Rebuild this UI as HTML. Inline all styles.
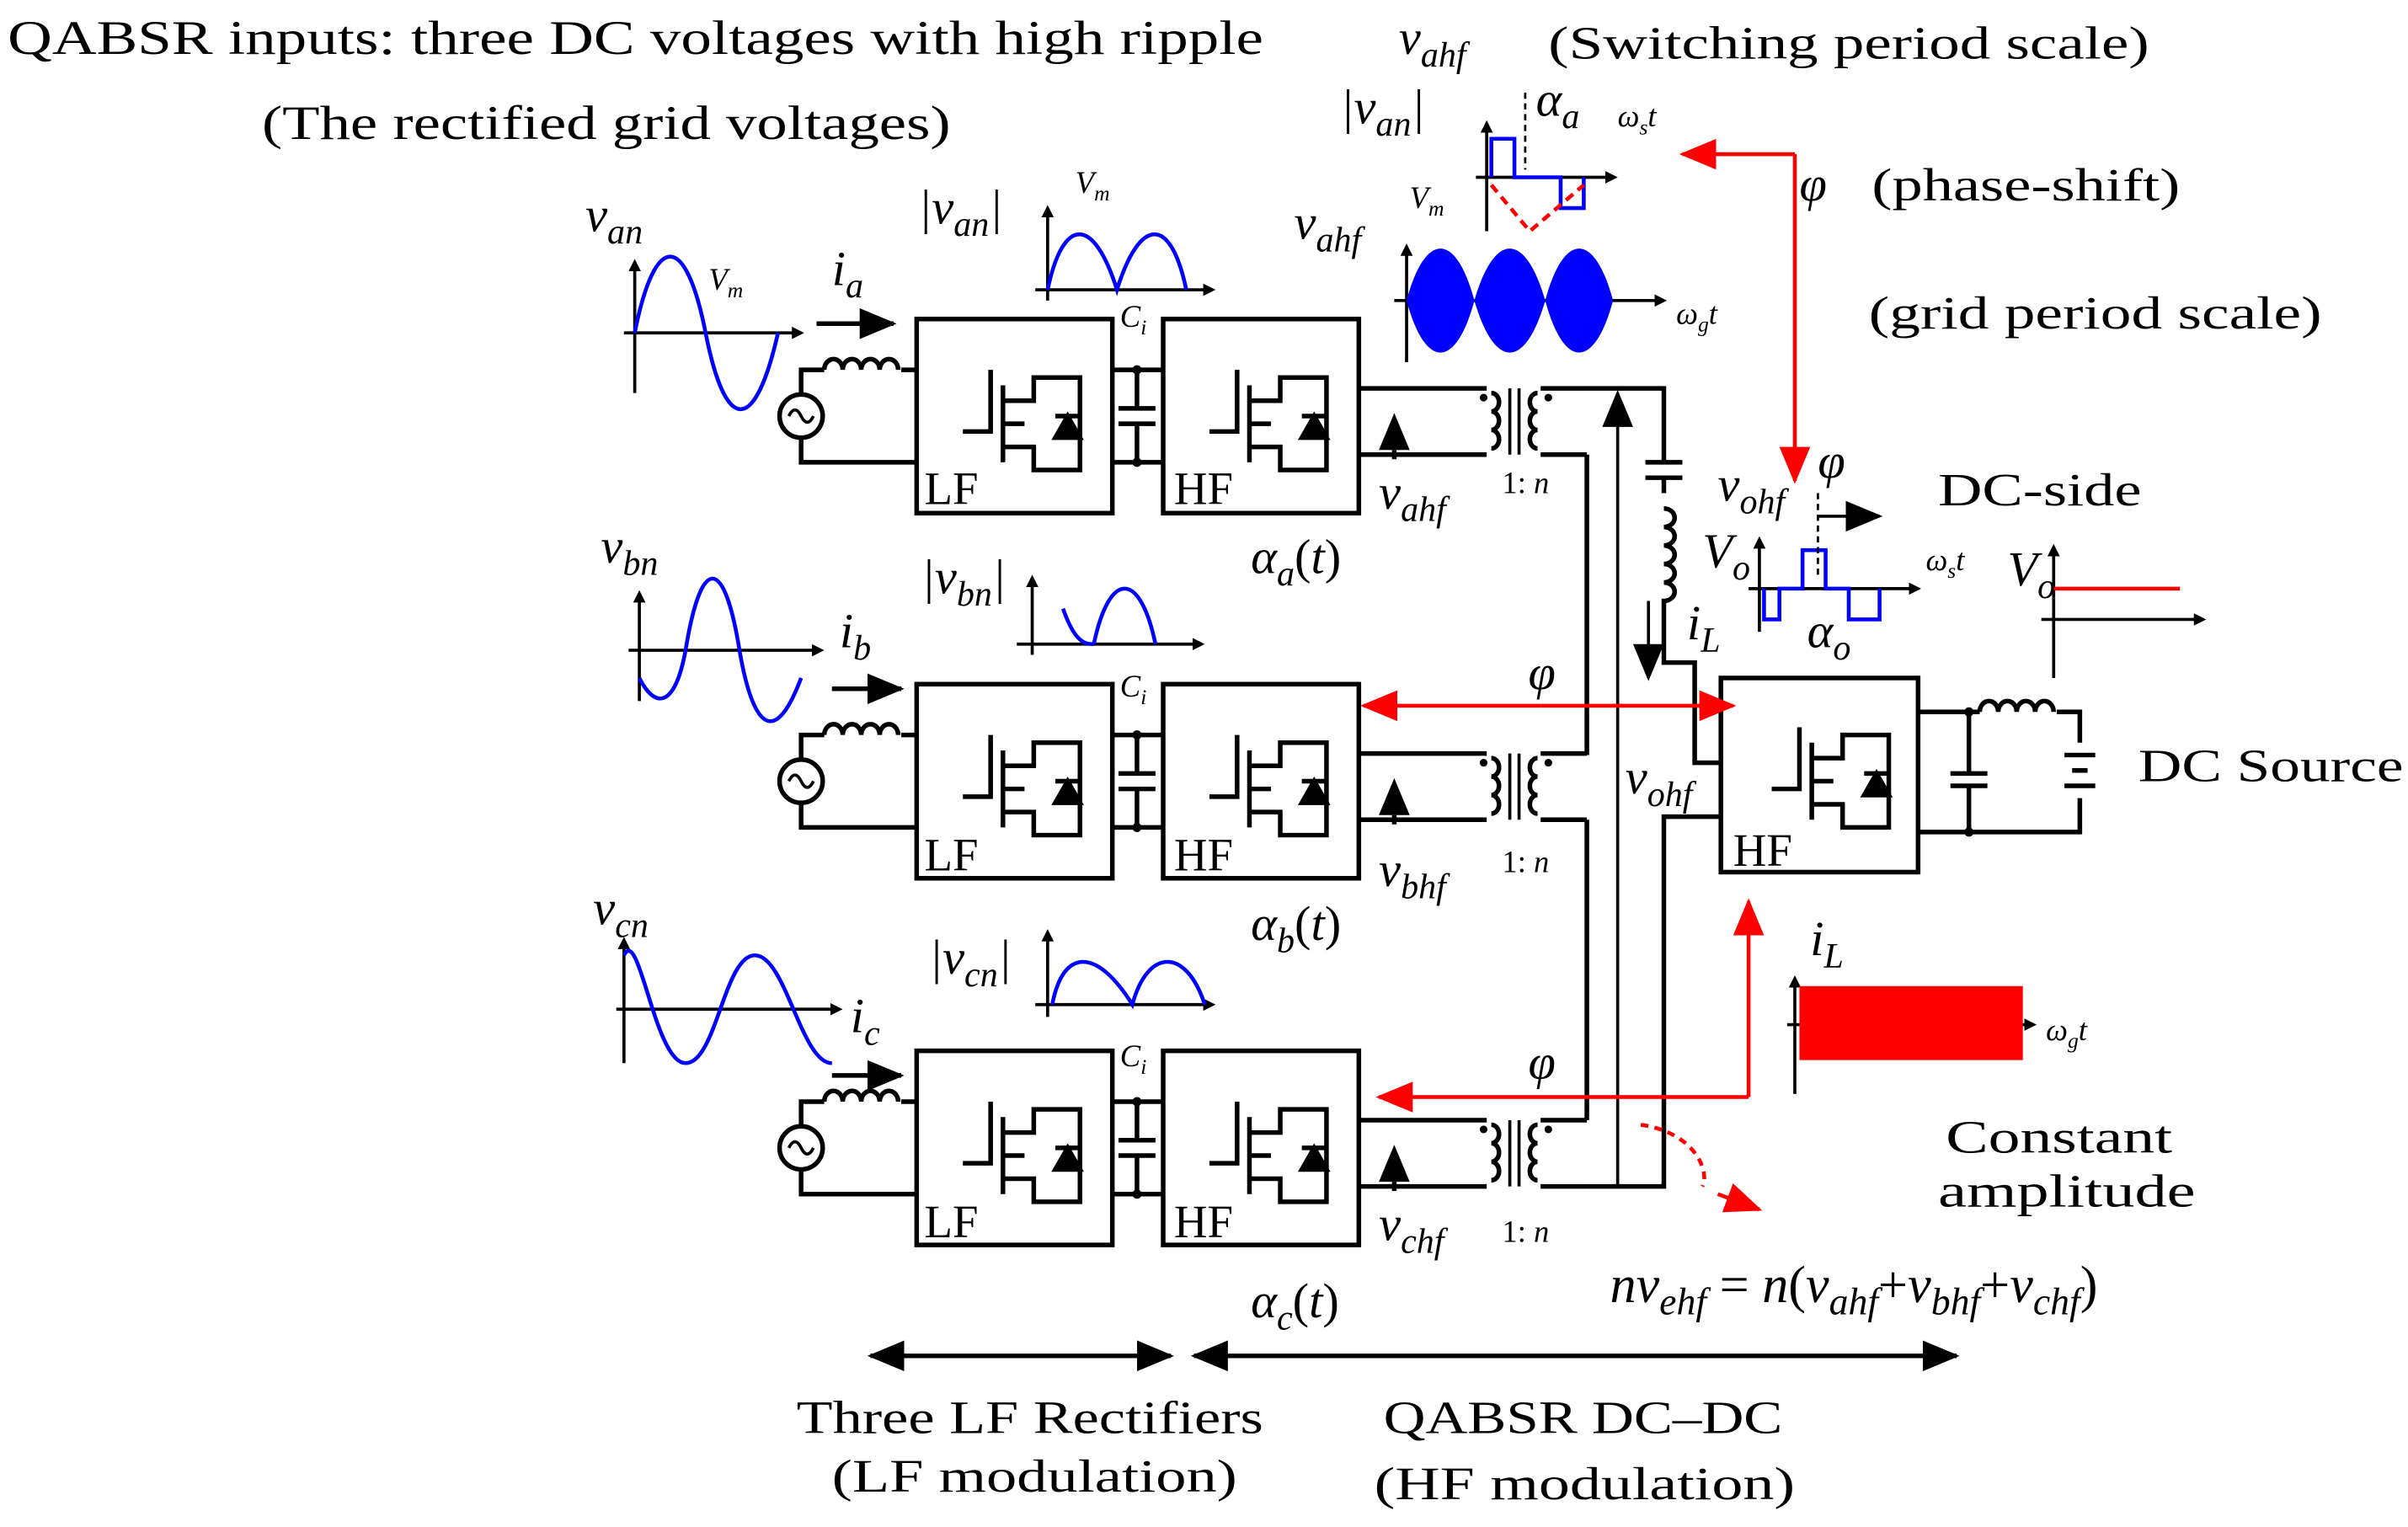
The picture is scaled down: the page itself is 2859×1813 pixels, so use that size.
<!DOCTYPE html>
<html><head><meta charset="utf-8"><style>
html,body{margin:0;padding:0;background:#fff;}
svg{display:block;}
text{font-family:"Liberation Serif",serif;fill:#000;}
.m{font-style:italic;}
</style></head><body>
<svg width="2859" height="1813" viewBox="0 0 1563 991" xmlns="http://www.w3.org/2000/svg">
<defs>
<marker id="ab" markerWidth="8" markerHeight="8" refX="6" refY="4" orient="auto" markerUnits="userSpaceOnUse"><path d="M0,0 L8,4 L0,8 z" fill="#000"/></marker>
<marker id="abig" markerWidth="24" markerHeight="20" refX="22" refY="10" orient="auto-start-reverse" markerUnits="userSpaceOnUse"><path d="M0,0 L24,10 L0,20 z" fill="#000"/></marker>
<marker id="ar" markerWidth="24" markerHeight="20" refX="22" refY="10" orient="auto-start-reverse" markerUnits="userSpaceOnUse"><path d="M0,0 L24,10 L0,20 z" fill="#f00"/></marker>
<g id="sw" fill="none" stroke="#000" stroke-width="3">
 <path d="M0,50 h18 v-40 M26,20 v50 M26,30 h20 v-15 h30 v25 M26,60 h20 v15 h30 v-35 M26,45 h14"/>
 <path d="M68,40 l8,14 h-16 z M60,40 h16" fill="#000"/>
</g>
<g id="row">
 <g fill="none" stroke="#000" stroke-width="3">
  <circle cx="520" cy="270" r="14"/>
  <path d="M512,270 q4,-8 8,0 q4,8 8,0" stroke-width="2"/>
  <path d="M520,256 v-16 h15 M585,240 h10 M520,284 v16 h75"/>
  <path d="M535,240 a6,7 0 0 1 12,0 a6,7 0 0 1 12,0 a6,7 0 0 1 12,0 a6,7 0 0 1 12,0"/>
  <rect x="595" y="207" width="127" height="126"/>
  <rect x="755" y="207" width="127" height="126"/>
  <path d="M722,240 h33 M722,300 h33 M738,240 v25 M738,275 v25 M726,265 h24 M726,275 h24"/>
  <path d="M882,252 h83 M882,295 h83 M1000,252 h30 M1000,295 h30"/>
  <path d="M968,255 a5,6 0 0 1 0,12 a5,6 0 0 1 0,12 a5,6 0 0 1 0,12" />
  <path d="M998,255 a5,6 0 0 0 0,12 a5,6 0 0 0 0,12 a5,6 0 0 0 0,12" />
  <path d="M980,252 v43 M986,252 v43" stroke-width="2"/>
 </g>
 <circle cx="738" cy="240" r="3"/><circle cx="738" cy="300" r="3"/>
 <circle cx="963" cy="258" r="2.5"/><circle cx="1005" cy="258" r="2.5"/>
 <path d="M895,292 L905,268 L915,292 z"/><path d="M905,292 v6" stroke="#000" stroke-width="3"/>
 <use href="#sw" x="625" y="230"/>
 <use href="#sw" x="785" y="230"/>
</g>
</defs>

<text x="5" y="35" font-size="31" textLength="815" lengthAdjust="spacingAndGlyphs">QABSR inputs: three DC voltages with high ripple</text>
<text x="170" y="90" font-size="31" textLength="447" lengthAdjust="spacingAndGlyphs">(The rectified grid voltages)</text>

<use href="#row"/>
<use href="#row" y="237"/>
<use href="#row" y="475"/>

<g font-size="30">
<text x="600" y="327">LF</text><text x="762" y="327">HF</text>
<text x="600" y="565">LF</text><text x="762" y="565">HF</text>
<text x="600" y="803">LF</text><text x="762" y="803">HF</text>
<text x="1125" y="562">HF</text>
<text x="1258" y="328" textLength="132" lengthAdjust="spacingAndGlyphs">DC-side</text>
<text x="1388" y="507" textLength="172" lengthAdjust="spacingAndGlyphs">DC Source</text>
<text x="1213" y="213" textLength="294" lengthAdjust="spacingAndGlyphs">(grid period scale)</text>
<text x="1005" y="38" textLength="390" lengthAdjust="spacingAndGlyphs">(Switching period scale)</text>
<text x="1215" y="130" textLength="200" lengthAdjust="spacingAndGlyphs">(phase-shift)</text>
<text x="1263" y="748" textLength="147" lengthAdjust="spacingAndGlyphs">Constant</text>
<text x="1258" y="783" textLength="167" lengthAdjust="spacingAndGlyphs">amplitude</text>
<text x="517" y="930" textLength="303" lengthAdjust="spacingAndGlyphs">Three LF Rectifiers</text>
<text x="540" y="968" textLength="263" lengthAdjust="spacingAndGlyphs">(LF modulation)</text>
<text x="898" y="930" textLength="259" lengthAdjust="spacingAndGlyphs">QABSR DC–DC</text>
<text x="892" y="973" textLength="273" lengthAdjust="spacingAndGlyphs">(HF modulation)</text>
</g>
<g font-size="20"><text x="975" y="320">1: <tspan class="m">n</tspan></text><text x="975" y="566">1: <tspan class="m">n</tspan></text><text x="975" y="806">1: <tspan class="m">n</tspan></text></g>

<g fill="none" stroke="#000" stroke-width="3">
 <path d="M1030,252 h50 v48"/>
 <path d="M1030,295 v195 M1030,532 v195 M1030,770 h50 v-240 h37"/>
 <path d="M1068,300 h24 M1068,310 h24 M1080,310 v10"/>
 <path d="M1080,330 a7,6 0 0 1 0,12 a7,6 0 0 1 0,12 a7,6 0 0 1 0,12 a7,6 0 0 1 0,12 a7,6 0 0 1 0,12 v40 h20 v65 h17"/>
 <rect x="1117" y="440" width="128" height="126"/>
 <path d="M1245,462 h40 M1335,462 h15 v20 M1245,540 h105 v-22 M1278,462 v40 M1278,510 v30 M1266,502 h24 M1266,510 h24"/>
 <path d="M1285,462 a6,7 0 0 1 12,0 a6,7 0 0 1 12,0 a6,7 0 0 1 12,0 a6,7 0 0 1 12,0"/>
 <path d="M1340,490 h20 M1345,500 h10 M1340,510 h20" />
 <path d="M1050,770 V255" stroke-width="2" marker-end="url(#abig)"/>
 <path d="M1070,390 V440" stroke-width="2" marker-end="url(#abig)"/>
</g>
<circle cx="1278" cy="462" r="3"/><circle cx="1278" cy="540" r="3"/>
<use href="#sw" x="1150" y="462"/>

<g stroke="#000" stroke-width="3" fill="none">
 <path d="M530,210 h50" marker-end="url(#abig)"/>
 <path d="M540,447 h45" marker-end="url(#abig)"/>
 <path d="M540,698 h45" marker-end="url(#abig)"/>
 <path d="M565,880 h195" marker-end="url(#abig)" marker-start="url(#abig)"/>
 <path d="M775,880 h495" marker-end="url(#abig)" marker-start="url(#abig)"/>
</g>

<g fill="none" stroke-width="2.5">
 <g stroke="#000" stroke-width="2"><path d="M405,216 h115" marker-end="url(#ab)"/><path d="M412,255 v-85" marker-end="url(#ab)"/>
 <path d="M408,422 h125" marker-end="url(#ab)"/><path d="M415,455 v-70" marker-end="url(#ab)"/>
 <path d="M400,655 h145" marker-end="url(#ab)"/><path d="M405,690 v-80" marker-end="url(#ab)"/>
 <path d="M672,188 h115" marker-end="url(#ab)"/><path d="M680,195 v-60" marker-end="url(#ab)"/>
 <path d="M660,418 h120" marker-end="url(#ab)"/><path d="M670,425 v-50" marker-end="url(#ab)"/>
 <path d="M672,652 h115" marker-end="url(#ab)"/><path d="M680,660 v-55" marker-end="url(#ab)"/>
 <path d="M905,195 h175" marker-end="url(#ab)"/><path d="M913,235 v-75" marker-end="url(#ab)"/>
 <path d="M1325,402 h105" marker-end="url(#ab)"/><path d="M1333,440 v-85" marker-end="url(#ab)"/>
 <path d="M1160,665 h160" marker-end="url(#ab)"/><path d="M1165,710 v-75" marker-end="url(#ab)"/>
 <path d="M958,115 h90" marker-end="url(#ab)"/><path d="M965,150 v-70" marker-end="url(#ab)"/>
 <path d="M1135,382 h110" marker-end="url(#ab)"/><path d="M1142,410 v-60" marker-end="url(#ab)"/>
 </g>
 <path stroke="#00f" d="M412,216 C425,150 445,150 458,216 S490,282 505,216"/>
 <path stroke="#00f" d="M415,440 C425,460 438,460 445,422 C455,360 470,360 480,422 C490,480 505,480 520,440"/>
 <path stroke="#00f" d="M405,620 C415,600 425,690 445,690 C465,690 470,620 490,620 C510,620 520,690 540,690"/>
 <path stroke="#00f" d="M680,188 C690,140 710,140 725,188 C740,140 760,140 770,188"/>
 <path stroke="#00f" d="M710,418 C720,370 740,370 750,418 M690,395 C698,418 705,418 710,418"/>
 <path stroke="#00f" d="M683,652 C690,615 712,615 735,652 C745,615 770,615 782,652"/>
 <path stroke="#00f" d="M968,115 v-25 h15 v25 h30 v20 h15 v-20"/>
 <path stroke="#00f" d="M1145,382 v20 h10 v-20 h15 v-25 h15 v25 h15 v20 h20 v-20"/>
 <path stroke="#f00" d="M1333,382 h82"/>
 <path stroke="#f00" stroke-dasharray="6,4" d="M968,120 l25,30 l35,-30"/>
</g>
<path fill="#00f" d="M913,195 C925,150 945,150 957,195 C970,150 990,150 1003,195 C1015,150 1035,150 1047,195 C1035,240 1015,240 1003,195 C990,240 970,240 957,195 C945,240 925,240 913,195 z"/>
<rect x="1168" y="640" width="145" height="48" fill="#f00"/>
<path d="M990,60 v50" stroke="#000" stroke-width="1.5" stroke-dasharray="4,3"/>
<path d="M1180,320 v55" stroke="#000" stroke-width="1.5" stroke-dasharray="4,3"/>
<path d="M1180,335 h40" stroke="#000" stroke-width="2" marker-end="url(#abig)"/>

<g stroke="#f00" stroke-width="2.5" fill="none">
 <path d="M1165,100 H1092" marker-end="url(#ar)"/>
 <path d="M1165,100 V312" marker-end="url(#ar)"/>
 <path d="M1000,458 H885" marker-end="url(#ar)"/>
 <path d="M1000,458 H1125" marker-end="url(#ar)"/>
 <path d="M1135,712 V585" marker-end="url(#ar)"/>
 <path d="M1135,712 H895" marker-end="url(#ar)"/>
 <path d="M1065,730 C1100,735 1110,760 1105,770" stroke-dasharray="5,4"/>
 <path d="M1115,775 L1142,785" marker-end="url(#ar)"/>
</g>

<g class="m" font-size="32">
<text x="380" y="150">v<tspan font-size="23" dy="8">an</tspan></text>
<text x="540" y="185">i<tspan font-size="23" dy="8">a</tspan></text>
<text x="596" y="145">|v<tspan font-size="23" dy="8">an</tspan><tspan dy="-8">|</tspan></text>
<text x="840" y="155">v<tspan font-size="23" dy="8">ahf</tspan></text>
<text x="895" y="330">v<tspan font-size="23" dy="8">ahf</tspan></text>
<text x="812" y="372">α<tspan font-size="23" dy="8">a</tspan><tspan dy="-8" font-style="normal">(</tspan>t<tspan font-style="normal">)</tspan></text>
<text x="390" y="365">v<tspan font-size="23" dy="8">bn</tspan></text>
<text x="545" y="420">i<tspan font-size="23" dy="8">b</tspan></text>
<text x="598" y="385">|v<tspan font-size="23" dy="8">bn</tspan><tspan dy="-8">|</tspan></text>
<text x="895" y="575">v<tspan font-size="23" dy="8">bhf</tspan></text>
<text x="812" y="610">α<tspan font-size="23" dy="8">b</tspan><tspan dy="-8" font-style="normal">(</tspan>t<tspan font-style="normal">)</tspan></text>
<text x="385" y="600">v<tspan font-size="23" dy="8">cn</tspan></text>
<text x="552" y="670">i<tspan font-size="23" dy="8">c</tspan></text>
<text x="603" y="632">|v<tspan font-size="23" dy="8">cn</tspan><tspan dy="-8">|</tspan></text>
<text x="895" y="805">v<tspan font-size="23" dy="8">chf</tspan></text>
<text x="812" y="855">α<tspan font-size="23" dy="8">c</tspan><tspan dy="-8" font-style="normal">(</tspan>t<tspan font-style="normal">)</tspan></text>
<text x="1055" y="515">v<tspan font-size="23" dy="8">ohf</tspan></text>
<text x="1115" y="325">v<tspan font-size="23" dy="8">ohf</tspan></text>
<text x="1095" y="415">i<tspan font-size="23" dy="8">L</tspan></text>
<text x="1175" y="620">i<tspan font-size="23" dy="8">L</tspan></text>
<text x="1173" y="420">α<tspan font-size="23" dy="8">o</tspan></text>
<text x="1105" y="368">V<tspan font-size="23" dy="8">o</tspan></text>
<text x="1303" y="380">V<tspan font-size="23" dy="8">o</tspan></text>
<text x="908" y="35">v<tspan font-size="23" dy="8">ahf</tspan></text>
<text x="870" y="80">|v<tspan font-size="23" dy="8">an</tspan><tspan dy="-8">|</tspan></text>
<text x="997" y="75">α<tspan font-size="23" dy="8">a</tspan></text>
<text x="1168" y="130">φ</text>
<text x="1180" y="310">φ</text>
<text x="992" y="447">φ</text>
<text x="992" y="700">φ</text>
<text x="1045" y="845" font-size="34">nv<tspan font-size="25" dy="8">ehf</tspan><tspan dy="-8" font-style="normal"> = </tspan>n<tspan font-style="normal">(</tspan>v<tspan font-size="25" dy="8">ahf</tspan><tspan dy="-8" font-style="normal">+</tspan>v<tspan font-size="25" dy="8">bhf</tspan><tspan dy="-8" font-style="normal">+</tspan>v<tspan font-size="25" dy="8">chf</tspan><tspan dy="-8" font-style="normal">)</tspan></text>
</g>
<g class="m" font-size="20">
<text x="460" y="188">V<tspan font-size="14" dy="5">m</tspan></text>
<text x="698" y="125">V<tspan font-size="14" dy="5">m</tspan></text>
<text x="915" y="135">V<tspan font-size="14" dy="5">m</tspan></text>
<text x="727" y="212">C<tspan font-size="14" dy="5">i</tspan></text>
<text x="727" y="452">C<tspan font-size="14" dy="5">i</tspan></text>
<text x="727" y="692">C<tspan font-size="14" dy="5">i</tspan></text>
<text x="1088" y="210">ω<tspan font-size="14" dy="5">g</tspan><tspan dy="-5">t</tspan></text>
<text x="1328" y="675">ω<tspan font-size="14" dy="5">g</tspan><tspan dy="-5">t</tspan></text>
<text x="1050" y="82">ω<tspan font-size="14" dy="5">s</tspan><tspan dy="-5">t</tspan></text>
<text x="1250" y="370">ω<tspan font-size="14" dy="5">s</tspan><tspan dy="-5">t</tspan></text>
</g>
</svg>
</body></html>
